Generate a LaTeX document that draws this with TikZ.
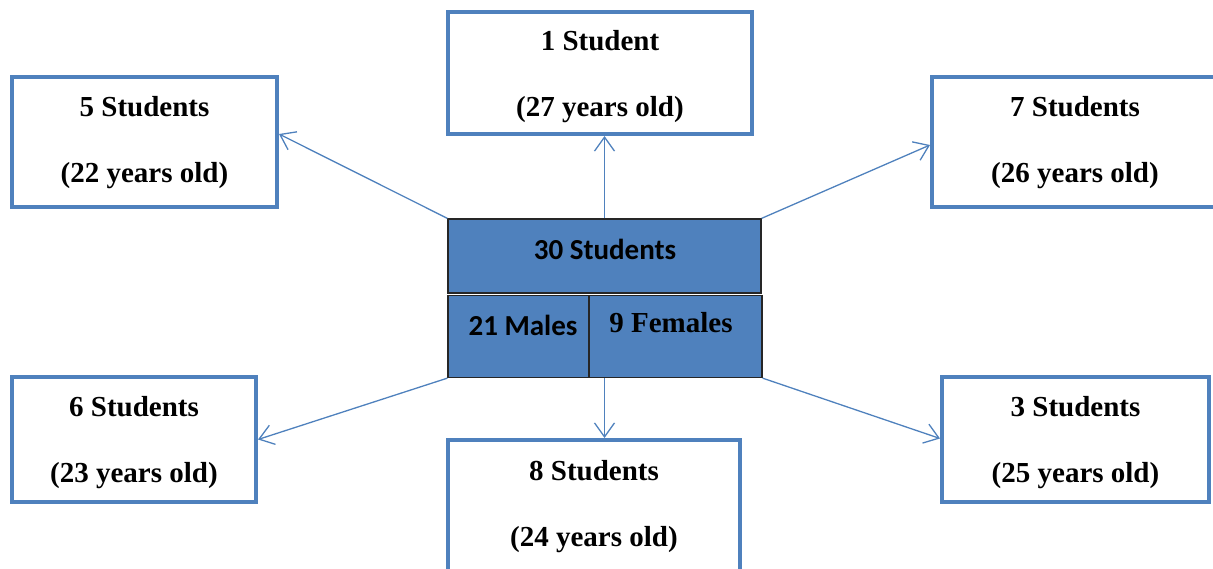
\documentclass[tikz,border=0pt]{standalone}
\usepackage{fontspec}
\setmainfont{Liberation Serif}
\newfontfamily\calfont{Carlito}
\usetikzlibrary{arrows.meta}
\definecolor{ablue}{HTML}{4F81BD}
\definecolor{edark}{HTML}{262626}
\tikzset{
  agebox/.style={draw=ablue, line width=4pt, fill=white, inner sep=0pt},
  agetext/.style={align=center, inner sep=0pt, font=\fontsize{29}{66}\selectfont\bfseries},
  midbox/.style={draw=edark, line width=1.3pt, fill=ablue, inner sep=0pt},
  midtext/.style={font=\fontsize{29}{32}\selectfont\bfseries, inner sep=0pt},
  caltext/.style={font=\calfont\fontsize{29}{32}\selectfont\bfseries, inner sep=0pt},
  link/.style={draw=ablue, line width=1.3pt, -{Straight Barb[length=14pt,width=20pt,line width=1.3pt]}}
}
\begin{document}
\begin{tikzpicture}[x=1pt,y=-1pt]
\useasboundingbox (0,0) rectangle (1213,569);
\clip (0,0) rectangle (1213,569);
% age boxes
\node[agebox, minimum width=304, minimum height=122] (b1) at (600,73) {};
\node[agebox, minimum width=265, minimum height=130] (b5) at (144.5,142) {};
\node[agebox, minimum width=286, minimum height=130] (b7) at (1075,142) {};
\node[agebox, minimum width=244, minimum height=125] (b6) at (134,439.5) {};
\node[agebox, minimum width=267, minimum height=125] (b3) at (1075.5,439.5) {};
\node[agebox, minimum width=292, minimum height=134] (b8) at (594,507) {};
\node[agetext] (l1) at ([yshift=-4pt]b1.center) {1 Student\\(27 years old)};
\node[agetext] (l5) at ([yshift=-1pt]b5.center) {5 Students\\(22 years old)};
\node[agetext] (l7) at ([yshift=-1pt]b7.center) {7 Students\\(26 years old)};
\node[agetext] (l6) at ([yshift=-3pt]b6.center) {6 Students\\(23 years old)};
\node[agetext] (l3) at ([yshift=-3pt]b3.center) {3 Students\\(25 years old)};
\node[agetext] (l8) at (b8.center) {8 Students\\(24 years old)};
% central boxes
\node[midbox, minimum width=313, minimum height=74] (top) at (604.5,256) {};
\node[midbox, minimum width=141, minimum height=82] (mal) at (518.5,336.5) {};
\node[midbox, minimum width=173, minimum height=82] (fem) at (675.5,336.5) {};
\node[caltext] (t30) at (605,249) {30 Students};
\node[caltext] (t21) at (523,325) {21 Males};
\node[midtext] (t9) at (671,323) {9 Females};
% connectors
\draw[link] (top.north) -- (top.north |- b1.south);
\draw[link] (top.north west) -- ([yshift=8pt]b5.east);
\draw[link] (top.north east) -- ([yshift=-3pt]b7.west);
\draw[link] (mal.south west) -- (b6.east);
\draw[link] (fem.south east) -- ([yshift=1pt]b3.west);
\draw[link] (fem.south west -| top.south) -- (top.south |- b8.north);
\end{tikzpicture}
\end{document}
